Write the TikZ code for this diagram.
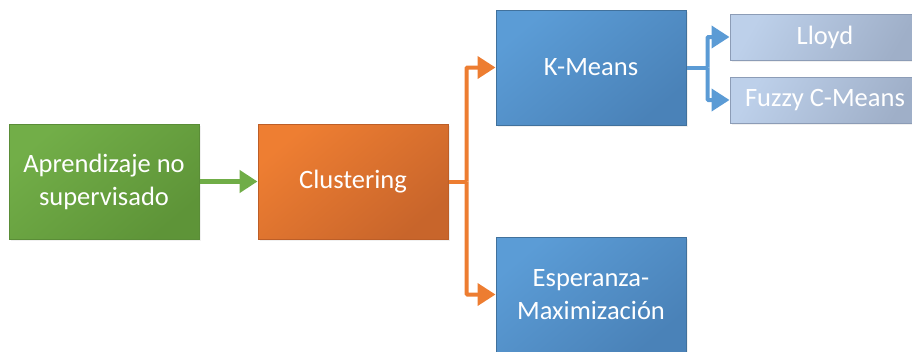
\documentclass[tikz,border=0pt]{standalone}
\usepackage{fontspec}
\setmainfont{Carlito}
\usetikzlibrary{arrows.meta,shadows}
\definecolor{grnA}{HTML}{72AE48}
\definecolor{grnB}{HTML}{5E9438}
\definecolor{grnE}{HTML}{5A8D37}
\definecolor{orgA}{HTML}{EE7E32}
\definecolor{orgB}{HTML}{C8652B}
\definecolor{orgE}{HTML}{BD5E27}
\definecolor{bluA}{HTML}{5B9CD6}
\definecolor{bluB}{HTML}{4A82B8}
\definecolor{bluE}{HTML}{41719C}
\definecolor{ltA}{HTML}{BDD0EA}
\definecolor{ltB}{HTML}{9FAFC8}
\definecolor{ltE}{HTML}{8C9CB6}
\definecolor{grnL}{HTML}{70AD47}
\definecolor{orgL}{HTML}{ED7D31}
\definecolor{bluL}{HTML}{5B9BD5}
\tikzset{
  box/.style={draw, line width=1pt, text=white, align=center, inner sep=0pt,
    font=\fontsize{26.5}{33}\selectfont,
    drop shadow={opacity=0.12, shadow xshift=2pt, shadow yshift=-2pt}},
  bigbox/.style={box, minimum width=190pt, minimum height=115pt},
  smallbox/.style={box, minimum width=190pt, minimum height=46pt},
  grnbox/.style={bigbox, top color=grnA, bottom color=grnB, draw=grnE, shading angle=40},
  orgbox/.style={bigbox, top color=orgA, bottom color=orgB, draw=orgE, shading angle=40},
  blubox/.style={bigbox, top color=bluA, bottom color=bluB, draw=bluE, shading angle=40},
  ltbox/.style={smallbox, top color=ltA, bottom color=ltB, draw=ltE, shading angle=60},
  link/.style={line width=#1, -{Triangle[length=18pt,width=22pt]}},
}
\begin{document}
\begin{tikzpicture}[x=1pt,y=-1pt]
  \useasboundingbox (0,0) rectangle (912,351);
  \clip (0,0) rectangle (912,351);
  \node[grnbox] (apr) at (104,181.5) {Aprendizaje no\\supervisado};
  \node[orgbox] (clu) at (353,181.5) {Clustering};
  \node[blubox] (km) at (591,67.5) {K-Means};
  \node[blubox] (em) at (591,294.5) {Esperanza-\\Maximización};
  \node[ltbox] (ll) at (825,37) {Lloyd};
  \node[ltbox] (fz) at (825,100) {Fuzzy C-Means};

  \draw[link=5pt, grnL] (apr.east) -- (clu.west);

  \draw[orgL, line width=4pt] (clu.east) -- ++(18,0) coordinate (ob);
  \draw[link=4pt, orgL, rounded corners=1pt] (ob) |- (km.west);
  \draw[link=4pt, orgL, rounded corners=1pt] (ob) |- (em.west);

  \draw[bluL, line width=4pt] (km.east) -- ++(21,0) coordinate (bb);
  \draw[link=4pt, bluL, rounded corners=1pt] (bb) |- (ll.west);
  \draw[link=4pt, bluL, rounded corners=1pt] (bb) |- (fz.west);
\end{tikzpicture}
\end{document}
